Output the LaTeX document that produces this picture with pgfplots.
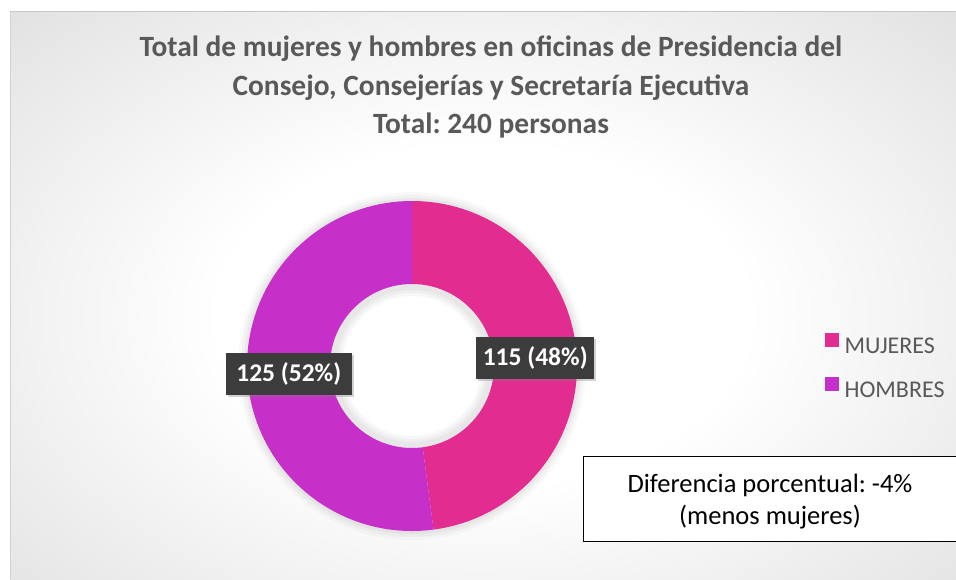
\documentclass[border=0pt]{standalone}
\usepackage{pgfplots}
\pgfplotsset{compat=1.18}
\usepackage{pgfplotstable}
\usepackage{fontspec}
\setmainfont{Carlito}
\usetikzlibrary{shadows}
\definecolor{mujeres}{HTML}{E32C90}
\definecolor{hombres}{HTML}{C62FC8}
\definecolor{titlegray}{HTML}{595959}
\definecolor{labelbox}{HTML}{3C3C3C}
\pgfdeclareradialshading{bgshade}{\pgfpoint{0bp}{0bp}}{color(0bp)=(white); color(14bp)=(white); color(50bp)=(gray!38); color(72bp)=(gray!50)}

\pgfplotstableread{
label value
MUJERES 115
HOMBRES 125
}\donutdata

\begin{document}
\frenchspacing
\begin{tikzpicture}[x=1pt,y=1pt]
\useasboundingbox (0,0) rectangle (956,579);
\clip (0,0) rectangle (956,579);
\fill[white] (0,0) rectangle (956,579);
\shade[shading=bgshade] (10,-40) rectangle (956,567);
\draw[gray!45, line width=1pt] (10,567) -- (956,567);
\draw[gray!35] (10,0) -- (10,567);

\node[font=\fontsize{29.4}{38.5}\selectfont\bfseries, text=titlegray, align=center] at (491,492)
 {Total de mujeres y hombres en oficinas de Presidencia del\\Consejo, Consejerías y Secretaría Ejecutiva\\Total: 240 personas};

\pgfplotstablegetelem{0}{value}\of\donutdata \let\vM\pgfplotsretval
\pgfplotstablegetelem{1}{value}\of\donutdata \let\vH\pgfplotsretval
\pgfmathsetmacro\total{\vM+\vH}
\pgfmathsetmacro\aM{\vM/\total*360}
\pgfmathsetmacro\aEnd{90-\aM}
\pgfmathtruncatemacro\pM{round(\vM/\total*100)}
\pgfmathtruncatemacro\pH{round(\vH/\total*100)}
\pgfmathsetmacro\midM{90-\aM/2}
\pgfmathsetmacro\midH{\aEnd-(360-\aM)/2}
\pgfmathsetmacro\lMx{412+123.5*cos(\midM)}
\pgfmathsetmacro\lMy{213+123.5*sin(\midM)}
\pgfmathsetmacro\lHx{412+123.5*cos(\midH)}
\pgfmathsetmacro\lHy{213+123.5*sin(\midH)}

% soft halo around the donut
\foreach \rr/\op in {174/0.025,171/0.03,168/0.035}{
  \fill[black, opacity=\op] (412,213) circle[radius=\rr pt];
}
\fill[white] (412,213) circle[radius=82pt];
\foreach \rr/\op in {82/0.03,79/0.03,76/0.03}{
  \fill[black, opacity=\op, even odd rule] (412,213) circle[radius=82pt] circle[radius=\rr pt - 6pt];
}

\begin{axis}[at={(0,0)}, anchor=origin, x=1pt, y=1pt,
  xmin=0, xmax=956, ymin=0, ymax=579, hide axis, clip=false,
  legend style={at={(axis cs:825,212)}, anchor=west, draw=none, fill=none,
    font=\fontsize{24}{28}\selectfont, text=titlegray, row sep=20pt,
    inner sep=0pt, nodes={inner xsep=6pt, inner ysep=2pt}},
  legend cell align=left,
  legend image code/.code={\fill[#1] (0pt,0.5pt) rectangle (13pt,13.5pt);}]
\addlegendimage{mujeres}
\addlegendimage{hombres}
\legend{MUJERES, HOMBRES}

\fill[mujeres] (412,213) ++(90:165pt) arc[start angle=90, end angle=\aEnd, radius=165pt]
  -- ++(\aEnd+180:83pt) arc[start angle=\aEnd, end angle=90, radius=82pt] -- cycle;
\fill[hombres] (412,213) ++(\aEnd:165pt) arc[start angle=\aEnd, end angle=-270, radius=165pt]
  -- ++(-90:83pt) arc[start angle=-270, end angle=\aEnd, radius=82pt] -- cycle;

\node[fill=labelbox, text=white, font=\fontsize{25.5}{30}\selectfont\bfseries,
  minimum width=118pt, minimum height=42pt, inner sep=0pt,
  drop shadow={shadow xshift=2pt, shadow yshift=-2pt, opacity=0.35}] at (\lMx,\lMy) {\vM\ (\pM\%)};
\node[fill=labelbox, text=white, font=\fontsize{25.5}{30}\selectfont\bfseries,
  minimum width=126pt, minimum height=42pt, inner sep=0pt,
  drop shadow={shadow xshift=2pt, shadow yshift=-2pt, opacity=0.35}] at (\lHx,\lHy) {\vH\ (\pH\%)};
\end{axis}

\draw[fill=white, line width=1pt] (583,38) rectangle (975,123);
\node[font=\fontsize{26.5}{31.5}\selectfont, align=center] at (770,77.5)
 {Diferencia porcentual: -4\%\\(menos mujeres)};
\end{tikzpicture}
\end{document}
